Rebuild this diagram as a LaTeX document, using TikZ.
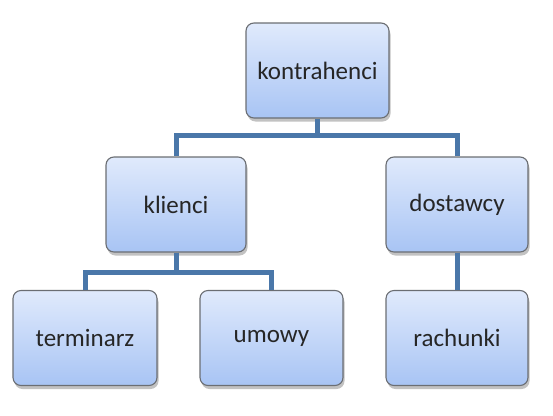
\documentclass[tikz,border=0pt]{standalone}
\usepackage{fontspec}
\setmainfont{Carlito}
\usepackage{tikz}
\usetikzlibrary{shadows}
\usetikzlibrary{positioning, calc}

\definecolor{boxtop}{HTML}{E0EAFC}
\definecolor{boxbot}{HTML}{A8C4F4}
\definecolor{boxline}{HTML}{6B6E73}
\definecolor{linkblue}{HTML}{4A77A9}

\begin{document}
\begin{tikzpicture}[
    x=1pt, y=-1pt,
    box/.style={draw=boxline, line width=1.1pt, rectangle, rounded corners=8pt,
        minimum width=143pt, minimum height=95pt, align=center,
        top color=boxtop, bottom color=boxbot, text=black!85,
        font=\fontsize{25}{30}\selectfont,
        drop shadow={shadow xshift=1.5pt, shadow yshift=-3.5pt, opacity=0.4, fill=black!60}},
    link/.style={draw=linkblue, line width=5pt}
]
    \useasboundingbox (0,0) rectangle (553,415);

    % Top level
    \node[box] (kontr) at (317.5, 70.5) {kontrahenci};

    % Second level
    \node[box, minimum width=140pt] (klienci) at (176, 204.5) {klienci};
    \node[box, minimum width=142pt] (dost) at (457, 204.5) {dostawcy};

    % Third level
    \node[box, minimum width=144pt] (term) at (85, 338) {terminarz};
    \node[box] (umowy) at (271.5, 338) {umowy};
    \node[box, minimum width=142pt] (rach) at (457, 338) {rachunki};

    % Connections
    \draw[link] (kontr.south) -- ++(0,17) -| (klienci.north);
    \draw[link] (kontr.south) -- ++(0,17) -| (dost.north);
    \draw[link] (klienci.south) -- ++(0,20) -| (term.north);
    \draw[link] (klienci.south) -- ++(0,20) -| (umowy.north);
    \draw[link] (dost.south) -- (rach.north);

\end{tikzpicture}
\end{document}
